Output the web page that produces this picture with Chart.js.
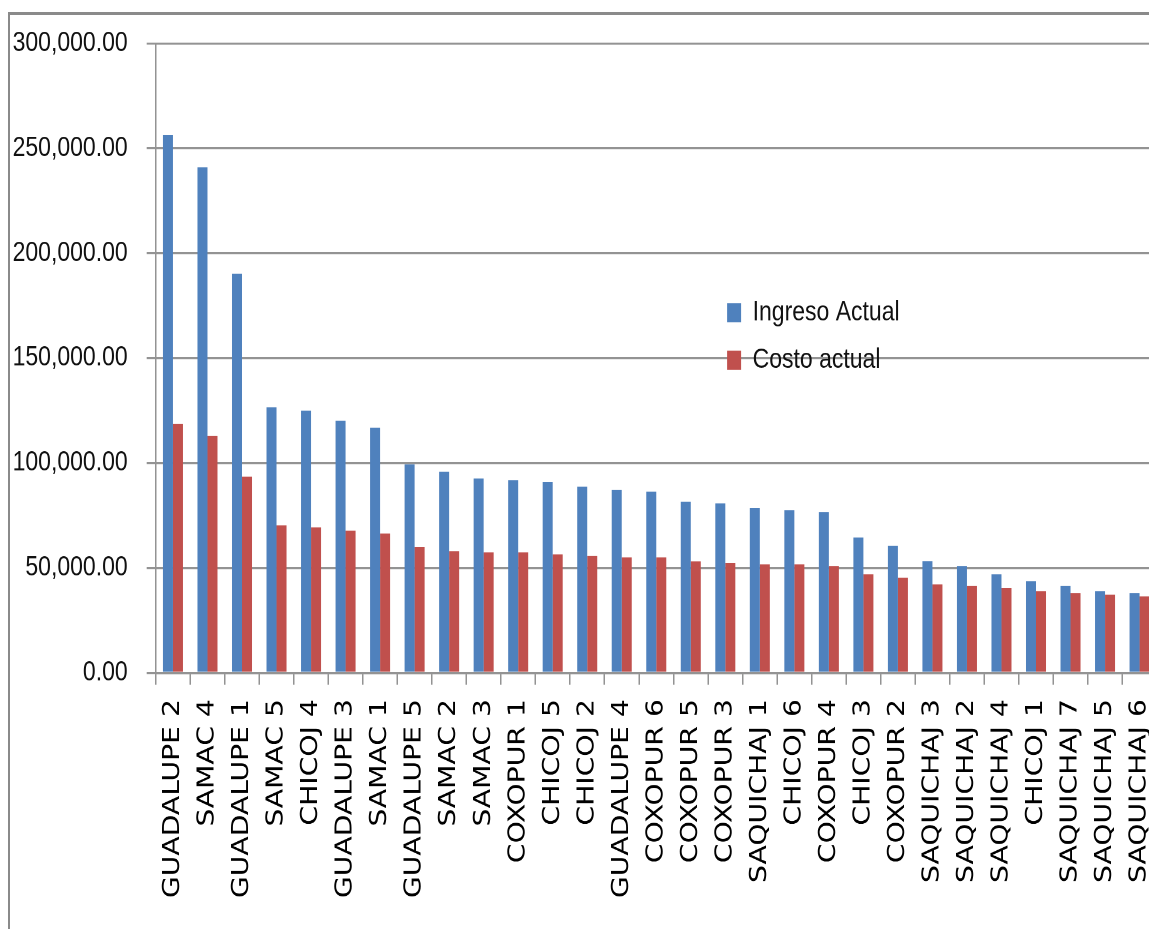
<!DOCTYPE html>
<html>
<head>
<meta charset="utf-8">
<title>Ingreso y costo actual</title>
<script src="https://cdn.jsdelivr.net/npm/chart.js"></script>
<style>
  html, body { margin: 0; padding: 0; background: #fff; overflow: hidden; width: 1149px; height: 929px; }
  #frame {
    position: absolute; left: 8px; top: 12px; width: 1200px; height: 1000px;
    border-left: 2px solid #8a8a8a; border-top: 3px solid #8a8a8a;
  }
  #wrap {
    position: absolute; left: 0; top: 0;
    transform: scaleY(1.2); transform-origin: 0 0;
  }
</style>
</head>
<body>
<div id="frame"></div>
<div id="wrap"><canvas id="ingresos" width="1180" height="774"></canvas></div>
<script>
var comunidades = ["GUADALUPE 2", "SAMAC 4", "GUADALUPE 1", "SAMAC 5", "CHICOJ 4", "GUADALUPE 3", "SAMAC 1",
    "GUADALUPE 5", "SAMAC 2", "SAMAC 3", "COXOPUR 1", "CHICOJ 5", "CHICOJ 2", "GUADALUPE 4", "COXOPUR 6",
    "COXOPUR 5", "COXOPUR 3", "SAQUICHAJ 1", "CHICOJ 6", "COXOPUR 4", "CHICOJ 3", "COXOPUR 2", "SAQUICHAJ 3",
    "SAQUICHAJ 2", "SAQUICHAJ 4", "CHICOJ 1", "SAQUICHAJ 7", "SAQUICHAJ 5", "SAQUICHAJ 6"];

var ingresoActual = [256300, 240900, 190200, 126500, 124900, 120100, 116800, 99300, 95800, 92600, 91800, 91000,
    88700, 87100, 86300, 81500, 80700, 78400, 77500, 76600, 64500, 60500, 53200, 50900, 46900, 43700, 41300,
    38900, 38000];

var costoActual = [118500, 112800, 93400, 70300, 69300, 67700, 66300, 59800, 58000, 57400, 57400, 56400, 55600,
    55000, 55000, 53100, 52400, 51700, 51700, 50900, 46900, 45300, 42100, 41300, 40400, 38900, 38000, 37200,
    36400];

var escalaMin = 0;
var escalaMax = 300000;
var escalaPaso = 50000;

var gris = "#939393";

// la leyenda va dentro del area de barras, a media altura
var moverLeyenda = {
    id: "moverLeyenda",
    afterLayout: function(chart) {
        chart.legend.left = 710.5;
        chart.legend.top = 232.5;
    }
};

var ctx = document.getElementById("ingresos").getContext("2d");
var myChart = new Chart(ctx, {
    type: "bar",
    data: {
        labels: comunidades,
        datasets: [{
            label: "Ingreso Actual",
            data: ingresoActual,
            backgroundColor: "#4f81bd"
        }, {
            label: "Costo actual",
            data: costoActual,
            backgroundColor: "#c0504d"
        }]
    },
    plugins: [moverLeyenda],
    options: {
        responsive: false,
        animation: false,
        devicePixelRatio: 2,
        layout: {
            padding: { top: 36.1, right: 13.8, bottom: 0, left: 0 }
        },
        datasets: {
            bar: { categoryPercentage: 0.58, barPercentage: 1.0 }
        },
        plugins: {
            legend: {
                position: "chartArea",
                align: "start",
                labels: {
                    boxWidth: 14,
                    boxHeight: 16,
                    padding: 16.6,
                    color: "#111",
                    font: { family: "Liberation Sans", size: 23 }
                }
            },
            tooltip: { enabled: false }
        },
        scales: {
            x: {
                afterFit: function(scale) { scale.height = 213.4; },
                grid: {
                    display: true,
                    drawOnChartArea: false,
                    drawTicks: true,
                    tickLength: 10,
                    color: gris,
                    lineWidth: 1.5
                },
                border: { color: gris, width: 1.7 },
                ticks: {
                    autoSkip: false,
                    minRotation: 90,
                    maxRotation: 90,
                    padding: 12,
                    color: "#000",
                    font: { family: "DejaVu Sans", size: 23.5 }
                }
            },
            y: {
                min: escalaMin,
                max: escalaMax,
                afterFit: function(scale) { scale.width = 155.7; },
                grid: {
                    color: gris,
                    lineWidth: 1.7,
                    tickLength: 9
                },
                border: { color: gris, width: 1.5 },
                ticks: {
                    stepSize: escalaPaso,
                    padding: 19,
                    color: "#111",
                    font: { family: "Liberation Sans", size: 23 },
                    callback: function(v) {
                        return Number(v).toLocaleString("en-US", { minimumFractionDigits: 2, maximumFractionDigits: 2 });
                    }
                }
            }
        }
    }
});
</script>
</body>
</html>
